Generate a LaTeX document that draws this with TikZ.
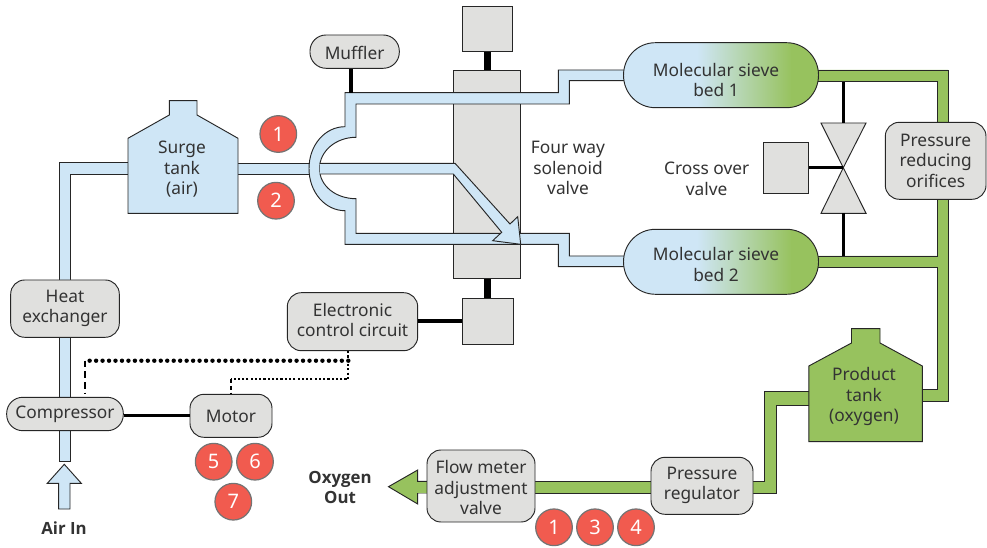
\documentclass[tikz,border=0pt]{standalone}
\usepackage{fontspec}
\setmainfont{Noto Sans}
\newfontfamily\boldfam{Open Sans}
\definecolor{airblue}{HTML}{CFE6F6}
\definecolor{oxgreen}{HTML}{97C25E}
\definecolor{unitgray}{HTML}{E0E0DE}
\definecolor{badgered}{HTML}{F15B4F}
\definecolor{inktext}{HTML}{333333}
\definecolor{inkline}{HTML}{262626}
\newcommand{\labelfont}{\fontsize{13}{15.4}\selectfont}
\newcommand{\boldlabelfont}{\fontsize{12.6}{15.2}\selectfont\boldfam\bfseries}
\newcommand{\badgefont}{\fontsize{15}{16}\selectfont}
\tikzset{
  outline/.style={draw=inkline,line width=0.7pt,line join=miter},
  unitbox/.style={outline,fill=unitgray,inner sep=0pt},
  squarebox/.style={outline,fill=unitgray,inner sep=0pt},
  plainlabel/.style={inner sep=0pt,align=center,text=inktext,font=\labelfont},
  boldlabel/.style={inner sep=0pt,align=center,text=inktext,font=\boldlabelfont},
  badge/.style={circle,draw=black!55,line width=0.9pt,fill=badgered,text=white,inner sep=0pt,minimum size=27.5pt,font=\badgefont},
  link/.style={draw=black,line width=2.3pt},
  thicklink/.style={draw=black,line width=5.4pt},
}
% \rbox{name}{x1}{y1}{x2}{y2}{radius}{text}{text centre y}
\newcommand{\rbox}[8]{\node[unitbox,rounded corners={#6*0.75pt},minimum width={(#4-#2)*0.75pt},minimum height={(#5-#3)*0.75pt}] (#1) at ({(#2+#4)/2},{(#3+#5)/2}) {};
  \node[plainlabel] (#1-text) at ({(#2+#4)/2},#8) {#7};}
\newcommand{\sqbox}[5]{\node[squarebox,minimum width={(#4-#2)*0.75pt},minimum height={(#5-#3)*0.75pt}] (#1) at ({(#2+#4)/2},{(#3+#5)/2}) {};}
% sieve bed: \bed{name}{top y}{text}{text centre y}
\newcommand{\bedoutline}[1]{(655.5,#1) -- (786.5,#1) .. controls (804.5,#1) and (818.5,#1+14.5) .. (818.5,#1+32.5) .. controls (818.5,#1+50.5) and (804.5,#1+65) .. (786.5,#1+65) -- (655.5,#1+65) .. controls (637.5,#1+65) and (623.5,#1+50.5) .. (623.5,#1+32.5) .. controls (623.5,#1+14.5) and (637.5,#1) .. (655.5,#1) -- cycle}
\newcommand{\bed}[4]{%
  \begin{scope}
    \clip \bedoutline{#2};
    \fill[airblue] (620,#2-1) rectangle (698,#2+66);
    \shade[left color=airblue,right color=oxgreen] (697,#2-1) rectangle (792,#2+66);
    \fill[oxgreen] (791,#2-1) rectangle (822,#2+66);
  \end{scope}
  \draw[outline] \bedoutline{#2};
  \node[plainlabel] (#1) at (716,#4) {#3};
}
\begin{document}
\begin{tikzpicture}[x=0.75pt,y=-0.75pt]
\useasboundingbox (0,0) rectangle (987,548);
\fill[white] (0,0) rectangle (987,548);

% solenoid valve body
\sqbox{valvebody}{453.3}{70.7}{520.7}{278.3}
\sqbox{soltop}{462.3}{6.7}{512.3}{51.7}
\sqbox{solbot}{462.5}{298}{513}{344.5}
\draw[thicklink] (soltop.south) -- (soltop.south |- valvebody.north);
\draw[thicklink] (solbot.north) -- (solbot.north |- valvebody.south);

% air pipes
\draw[outline,fill=airblue] (128,162.3) -- (59.5,162.3) -- (59.5,461) -- (70.7,461) -- (70.7,174) -- (128,174) -- cycle;
\fill[airblue] (238,163.3) rectangle (456,174);
\fill[airblue] (630,70) -- (558.3,70) -- (558.3,92.7) -- (345,92.7) -- (345,126.7)
  .. controls (325,126.7) and (309,145) .. (309,168.6)
  .. controls (309,192) and (325,210.7) .. (345,210.7) -- (345,244.3) -- (558.3,244.3) -- (558.3,266.7) -- (630,266.7)
  -- (630,256) -- (569.3,256) -- (569.3,233.3) -- (356,233.3) -- (356,198.7)
  .. controls (336,198.7) and (319.5,186) .. (319.5,168.6)
  .. controls (319.5,151) and (336,137.3) .. (356,137.3) -- (356,104) -- (569.3,104) -- (569.3,80.7) -- (630,80.7) -- cycle;
\draw[outline] (630,70) -- (558.3,70) -- (558.3,92.7) -- (345,92.7) -- (345,126.7)
  .. controls (325,126.7) and (309,145) .. (309,168.6)
  .. controls (309,192) and (325,210.7) .. (345,210.7) -- (345,244.3) -- (558.3,244.3) -- (558.3,266.7) -- (630,266.7);
\draw[outline] (630,256) -- (569.3,256) -- (569.3,233.3) -- (356,233.3) -- (356,198.7)
  .. controls (336,198.7) and (319.5,186) .. (319.5,168.6)
  .. controls (319.5,151) and (336,137.3) .. (356,137.3) -- (356,104) -- (569.3,104) -- (569.3,80.7) -- (630,80.7);
\draw[outline] (238,163.3) -- (309.5,163.3);
\draw[outline] (238,174) -- (309.8,174);
% diverter arrow
\fill[airblue] (319.5,163.3) -- (455,163.3) -- (510,224) -- (517.7,216.7) -- (520.7,244.3) -- (492.7,240.7) -- (501.7,232.3) -- (453.3,174) -- (319.5,174) -- cycle;
\draw[outline] (319.5,163.3) -- (455,163.3) -- (510,224) -- (517.7,216.7) -- (520.7,244.3) -- (492.7,240.7) -- (501.7,232.3) -- (453.3,174) -- (319.8,174);

% oxygen pipes
\draw[outline,fill=oxgreen] (810,70) -- (948,70) -- (948,401) -- (915,401) -- (915,389.3) -- (937,389.3) -- (937,267.3) -- (810,267.3) -- (810,256) -- (937,256) -- (937,81.7) -- (810,81.7) -- cycle;
\draw[outline,fill=oxgreen] (815,391.3) -- (764.6,391.3) -- (764.6,481.3) -- (530,481.3) -- (530,493) -- (776,493) -- (776,405.3) -- (815,405.3) -- cycle;
\draw[outline,fill=oxgreen] (430,481.3) -- (417.7,481.3) -- (417.7,470) -- (388.5,486.7) -- (417.7,504) -- (417.7,493) -- (430,493);
\fill[oxgreen] (417,481.8) rectangle (432,492.5);

% tanks
\draw[outline,fill=airblue] (128,213.3) -- (128,138.3) -- (169.3,115) -- (169.3,100.7) -- (197,100.7) -- (197,115) -- (238,138.3) -- (238,213.3) -- cycle;
\node[plainlabel] (surge) at (182,169.5) {Surge\\tank\\(air)};
\draw[outline,fill=oxgreen] (808.8,441.7) -- (808.8,366) -- (851.5,343) -- (851.5,328.7) -- (880,328.7) -- (880,343) -- (922.3,366) -- (922.3,441.7) -- cycle;
\node[plainlabel] (product) at (864,396.5) {Product\\tank\\(oxygen)};

% sieve beds
\bed{bedone}{42.7}{Molecular sieve\\bed 1}{80}
\bed{bedtwo}{229.3}{Molecular sieve\\bed 2}{264.5}

% cross over valve
\coordinate (crossmid) at (843.3,167.7);
\draw[outline,fill=unitgray] (821,123) -- (866,123) -- (crossmid) -- (866,213.3) -- (821,213.3) -- (crossmid) -- cycle;
\coordinate (crosstop) at (843.3,123);
\coordinate (crossbot) at (843.3,213.3);
\coordinate (bedonepipe) at (843.3,81.7);
\coordinate (bedtwopipe) at (843.3,256);
\draw[link] (crosstop) -- (bedonepipe);
\draw[link] (crossbot) -- (bedtwopipe);
\sqbox{crossact}{763.7}{142.7}{808.7}{193.3}
\draw[link] (crossact.east |- crossmid) -- (crossmid);

% rounded units
\rbox{muffler}{310}{35}{399.3}{68.3}{16}{Muffler}{53}
\rbox{reducer}{885.3}{122.3}{986}{199.3}{14}{Pressure\\reducing\\orifices}{160.5}
\rbox{heatex}{10.7}{280}{119.3}{337.3}{14}{Heat\\exchanger}{308.5}
\rbox{compressor}{6.7}{397.3}{123.3}{430.7}{16}{Compressor}{414}
\rbox{motor}{190}{394.3}{272}{437.3}{14}{Motor}{416.5}
\rbox{control}{287.3}{292.7}{417.7}{350.7}{14}{Electronic\\control circuit}{320}
\rbox{flowvalve}{427}{450}{535}{522}{14}{Flow meter\\adjustment\\valve}{487.5}
\rbox{regulator}{651}{457.3}{753}{514.3}{14}{Pressure\\regulator}{485.5}

% mechanical links
\coordinate (mufflerfoot) at (351,92.7);
\draw[link] (muffler.south -| mufflerfoot) -- (mufflerfoot);
\coordinate (motorlevel) at (0,415.7);
\coordinate (solbotlevel) at (0,321);
\draw[link] (compressor.east |- motorlevel) -- (motor.west |- motorlevel);
\draw[link] (control.east |- solbotlevel) -- (solbot.west |- solbotlevel);

% control lines
\coordinate (ctlA) at (348.3,360.7);
\coordinate (ctlB) at (85,360.7);
\coordinate (ctlC) at (85,394);
\coordinate (ctlD) at (348.3,379.3);
\coordinate (ctlE) at (231,379.3);
\coordinate (ctlF) at (231,394);
\draw[draw=black,line width=3.3pt,line cap=round,dash pattern=on 0pt off 4.85pt] (ctlA) -- (ctlB);
\draw[draw=black,line width=1.6pt,dash pattern=on 5pt off 3pt] (ctlB) -- (ctlC);
\draw[draw=black,line width=1.3pt,dash pattern=on 1.6pt off 1.6pt] (control.south -| ctlD) -- (ctlD) -- (ctlE);
\draw[draw=black,line width=1.3pt,dash pattern=on 3pt off 2pt] (ctlE) -- (ctlF);

% air in arrow
\draw[outline,fill=airblue] (64.3,464.3) -- (81.3,483.3) -- (70,483.3) -- (70,509) -- (58.7,509) -- (58.7,483.3) -- (47.3,483.3) -- cycle;

% free labels
\node[boldlabel] (airin) at (64,528) {Air In};
\node[boldlabel] (oxyout) at (340,487.5) {Oxygen\\Out};
\node[plainlabel] (foursol) at (568,168.3) {Four way\\solenoid\\valve};
\node[plainlabel] (crosslab) at (706.7,179) {Cross over\\valve};

% badges
\node[badge] (ba) at (278.3,134) {1};
\node[badge] (bb) at (276,200.7) {2};
\node[badge] (be) at (213.7,461.7) {5};
\node[badge] (bf) at (255,461.7) {6};
\node[badge] (bg) at (233.3,501.7) {7};
\node[badge] (bh) at (554,527.3) {1};
\node[badge] (bi) at (595,527.3) {3};
\node[badge] (bj) at (636,527.3) {4};
\end{tikzpicture}
\end{document}
